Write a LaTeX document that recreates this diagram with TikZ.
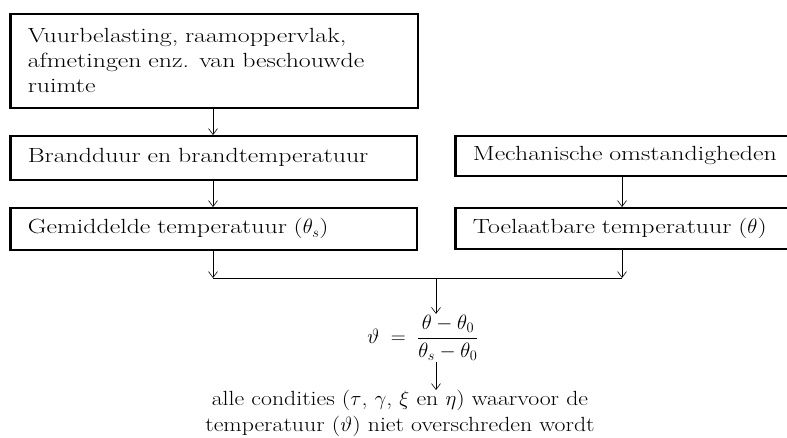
\documentclass[tikz,border=0pt]{standalone}
\usepackage{fontspec}
\newfontfamily\boxfont[FakeStretch=1.26]{Latin Modern Roman}
\newfontfamily\btfont[FakeStretch=1.16]{Latin Modern Roman}
\usetikzlibrary{arrows.meta}
\begin{document}
\begin{tikzpicture}[x=1pt,y=-1pt,
  flowbox/.style={draw, line width=1.6pt, anchor=north west, align=left,
    inner xsep=17pt, inner ysep=0pt, font=\boxfont\fontsize{20.5}{25}\selectfont},
  arr/.style={line width=0.6pt, -{Straight Barb[length=6pt,width=9pt]}},
  thin/.style={line width=0.7pt}]
\useasboundingbox (0,0) rectangle (787,437);
\clip (0,0) rectangle (787,437);
% left column
\node[flowbox, text width=373pt, minimum height=94pt] (b1) at (10,13)
  {Vuurbelasting, raamoppervlak,\\afmetingen enz. van beschouwde\\ruimte};
\node[flowbox, text width=372pt, minimum height=44pt] (b2) at (10,135)
  {Brandduur en brandtemperatuur};
\node[flowbox, text width=372pt, minimum height=42pt] (b3) at (10,207)
  {Gemiddelde temperatuur ($\theta_s$)};
% right column (runs past the right margin, as in the reference)
\node[flowbox, text width=330pt, minimum height=40pt] (b4) at (455,135)
  {Mechanische omstandigheden};
\node[flowbox, text width=330pt, minimum height=41pt] (b5) at (455,207)
  {Toelaatbare temperatuur ($\theta$)};
% thicker left edges
\foreach \b in {b1,b2,b3,b4,b5}
  \draw[line width=2.8pt] (\b.north west) -- (\b.south west);
% junction
\coordinate (jl) at (213,278);
\coordinate (jr) at (622,278);
\coordinate (jm) at (436,278);
\draw[arr] (b1.south -| jl) -- (b2.north -| jl);
\draw[arr] (b2.south -| jl) -- (b3.north -| jl);
\draw[arr] (b4.south -| jr) -- (b5.north -| jr);
\draw[arr] (b3.south -| jl) -- (jl);
\draw[arr] (b5.south -| jr) -- (jr);
\draw[thin] (jl) -- (jr);
% formula
\node[inner sep=1pt, font=\fontsize{22}{26}\selectfont] (f) at (423,338)
  {$\displaystyle \vartheta \;=\; \frac{\theta-\theta_0}{\theta_s-\theta_0}$};
\draw[arr] (jm) -- (f.north -| jm);
\node[align=center, inner sep=0pt, font=\btfont\fontsize{20.5}{26}\selectfont, anchor=north] (t) at (400,390)
  {alle condities ($\tau$, $\gamma$, $\xi$ en $\eta$) waarvoor de\\
   temperatuur ($\vartheta$) niet overschreden wordt};
\draw[arr] (f.south -| jm) -- (t.north -| jm);
\end{tikzpicture}
\end{document}
